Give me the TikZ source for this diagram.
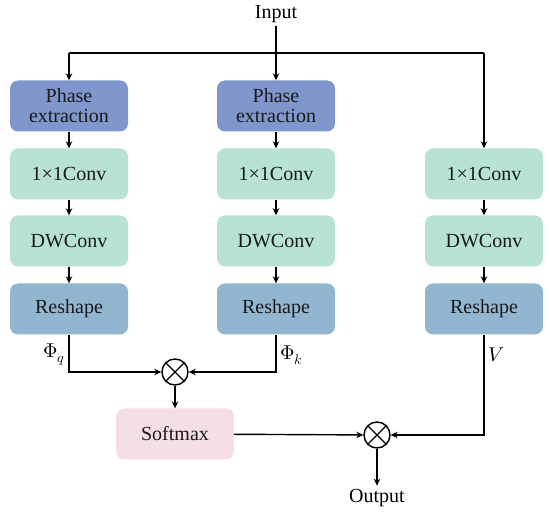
\documentclass[tikz,border=0pt]{standalone}
\usepackage{fontspec}
\usepackage{unicode-math}
\setmainfont{Liberation Serif}
\setmathfont{Latin Modern Math}
\usetikzlibrary{arrows.meta}

\definecolor{phasecol}{RGB}{127,151,205}
\definecolor{convcol}{RGB}{183,226,212}
\definecolor{reshapecol}{RGB}{146,181,208}
\definecolor{softcol}{RGB}{245,223,231}

\tikzset{
    block/.style={rounded corners=8pt, minimum width=118pt, minimum height=51pt,
        inner sep=2pt, align=center, text=black!90, font=\fontsize{20}{22}\selectfont},
    arr/.style={-{Stealth[length=7pt,width=6.5pt]}, line width=1.4pt},
    mult/.style={circle, draw, line width=1.4pt, minimum size=26pt, inner sep=0pt},
    lbl/.style={font=\fontsize{20}{22}\selectfont, text=black}
}

\begin{document}
\begin{tikzpicture}[x=1pt,y=-1pt]
    \useasboundingbox (0,0) rectangle (550,516);

    % input and split
    \node[lbl] (input) at (276,14) {Input};
    \coordinate (splitL) at (69,53);
    \coordinate (splitR) at (484,53);

    % three branches
    \node[block, fill=phasecol] (ph1) at (69,106) {Phase\\[-2pt]extraction};
    \node[block, fill=phasecol] (ph2) at (276,106) {Phase\\[-2pt]extraction};
    \node[block, fill=convcol] (conv1) at (69,174) {1×1Conv};
    \node[block, fill=convcol] (conv2) at (276,174) {1×1Conv};
    \node[block, fill=convcol] (conv3) at (484,174) {1×1Conv};
    \node[block, fill=convcol] (dw1) at (69,241) {DWConv};
    \node[block, fill=convcol] (dw2) at (276,241) {DWConv};
    \node[block, fill=convcol] (dw3) at (484,241) {DWConv};
    \node[block, fill=reshapecol] (rs1) at (69,309) {Reshape};
    \node[block, fill=reshapecol] (rs2) at (276,309) {Reshape};
    \node[block, fill=reshapecol] (rs3) at (484,309) {Reshape};

    % attention
    \node[mult] (mulA) at (175,372) {};
    \node[block, fill=softcol] (soft) at (175,434) {Softmax};
    \node[mult] (mulB) at (377,435) {};
    \node[lbl] (output) at (377,498) {Output};

    \foreach \m in {mulA,mulB}
        \draw[line width=1.4pt] (\m.north west) -- (\m.south east) (\m.north east) -- (\m.south west);

    % connectors
    \draw[line width=1.4pt] (splitL) -- (splitR);
    \draw[arr] (input) -- (ph2);
    \draw[arr] (splitL) -- (ph1);
    \draw[arr] (splitR) -- (conv3);
    \foreach \a/\b in {ph1/conv1, conv1/dw1, dw1/rs1, ph2/conv2, conv2/dw2, dw2/rs2, conv3/dw3, dw3/rs3}
        \draw[arr] (\a) -- (\b);
    \draw[arr] (rs1.south) |- node[pos=0.27, left, lbl] {$\Phi_q$} (mulA.west);
    \draw[arr] (rs2.south) |- node[pos=0.27, right, lbl] {$\Phi_k$} (mulA.east);
    \draw[arr] (rs3.south) |- node[pos=0.1, right, lbl] {$V$} (mulB.east);
    \draw[arr] (mulA) -- (soft);
    \draw[arr] (soft) -- (mulB);
    \draw[arr] (mulB) -- (output);
\end{tikzpicture}
\end{document}
